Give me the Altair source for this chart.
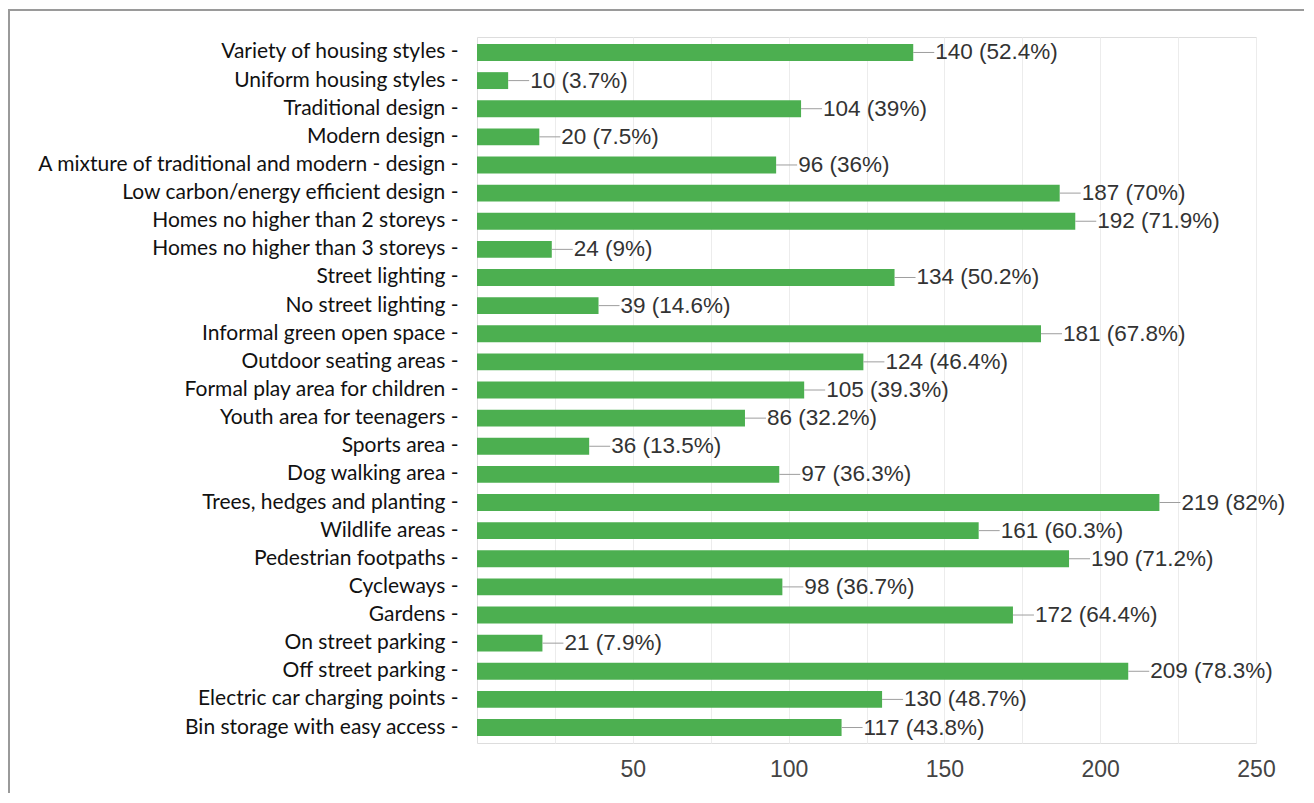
import altair as alt
import pandas as pd

categories = [
    "Variety of housing styles",
    "Uniform housing styles",
    "Traditional design",
    "Modern design",
    "A mixture of traditional and modern - design",
    "Low carbon/energy efficient design",
    "Homes no higher than 2 storeys",
    "Homes no higher than 3 storeys",
    "Street lighting",
    "No street lighting",
    "Informal green open space",
    "Outdoor seating areas",
    "Formal play area for children",
    "Youth area for teenagers",
    "Sports area",
    "Dog walking area",
    "Trees, hedges and planting",
    "Wildlife areas",
    "Pedestrian footpaths",
    "Cycleways",
    "Gardens",
    "On street parking",
    "Off street parking",
    "Electric car charging points",
    "Bin storage with easy access",
]
counts = [140, 10, 104, 20, 96, 187, 192, 24, 134, 39, 181, 124, 105, 86, 36,
          97, 219, 161, 190, 98, 172, 21, 209, 130, 117]
percents = ["52.4%", "3.7%", "39%", "7.5%", "36%", "70%", "71.9%", "9%", "50.2%",
            "14.6%", "67.8%", "46.4%", "39.3%", "32.2%", "13.5%", "36.3%", "82%",
            "60.3%", "71.2%", "36.7%", "64.4%", "7.9%", "78.3%", "48.7%", "43.8%"]
grid_values = [25, 50, 75, 100, 125, 150, 175, 200, 225, 250]

df = pd.DataFrame({
    "category": categories,
    "count": counts,
    "label": [f"{c} ({p})" for c, p in zip(counts, percents)],
})

W, H = 779, 706

y_enc = alt.Y(
    "category:N",
    sort=categories,
    scale=alt.Scale(paddingInner=0.4, paddingOuter=0.25),
    axis=alt.Axis(
        title=None, ticks=False, domain=False, grid=False,
        labelExpr="datum.label + ' -'", labelLimit=0, labelPadding=19,
        labelFont="Lato", labelFontSize=21, labelColor="#111111",
    ),
)
x_enc = alt.X(
    "count:Q",
    scale=alt.Scale(domain=[0, 250], nice=False),
    axis=alt.Axis(
        title=None, values=grid_values, ticks=False, domain=False,
        labelExpr="datum.value % 50 == 0 ? datum.label : ''",
        labelFont="Liberation Sans", labelFontSize=23, labelColor="#444444",
        labelPadding=15, labelFlush=False, labelBound=False,
        gridColor="#ececec", gridWidth=1,
    ),
)

base = alt.Chart(df)
bars = base.mark_bar(color="#4caf50").encode(x=x_enc, y=y_enc)
connectors = base.mark_rule(color="#9e9e9e", strokeWidth=1, x2Offset=21).encode(
    x="count:Q", x2="count:Q", y=alt.Y("category:N", sort=categories)
)
texts = base.mark_text(
    align="left", baseline="middle", dx=22, font="Liberation Sans",
    fontSize=22.5, color="#333333",
).encode(x="count:Q", y=alt.Y("category:N", sort=categories), text="label:N")

frame_top = alt.Chart(df).mark_rule(color="#9a9a9a", strokeWidth=2).encode(
    x=alt.value(-469), x2=alt.value(840), y=alt.value(-27)
)
frame_left = alt.Chart(df).mark_rule(color="#9a9a9a", strokeWidth=2).encode(
    x=alt.value(-468), y=alt.value(-27), y2=alt.value(770)
)

chart = alt.layer(bars, connectors, texts, frame_top, frame_left).properties(
    width=W, height=H,
    autosize=alt.AutoSizeParams(type="none"),
    padding={"left": 469, "top": 29, "right": 48, "bottom": 50},
).configure_view(stroke="#e6e6e6", strokeWidth=1).configure(background="white")

chart.save("out.html", embed_options={"renderer": "svg", "actions": False})
